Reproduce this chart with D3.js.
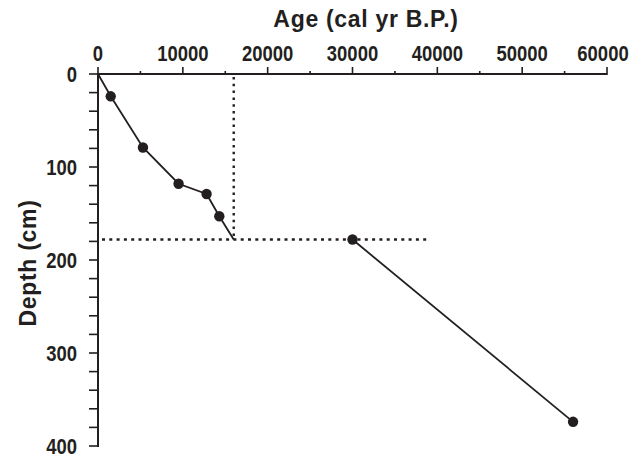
<!DOCTYPE html>
<html>
<head>
<meta charset="utf-8">
<script src="https://cdn.jsdelivr.net/npm/d3@7"></script>
<style>
  body { margin: 0; background: #fff; }
</style>
</head>
<body>
<div id="chart"></div>
<script>
// age-depth data
const ages = [0, 1500, 5300, 9500, 12800, 14300, 16000];
const depths = [0, 24, 79, 118, 129, 153, 178];
const ages2 = [30000, 56000];
const depths2 = [178, 374];
// dated samples (points)
const ptAges = [1500, 5300, 9500, 12800, 14300, 30000, 56000];
const ptDepths = [24, 79, 118, 129, 153, 178, 374];
// dotted guides
const hiatusDepth = 178;
const hiatusAge = 16000;
const guideAgeEnd = 39000;
const xTicks = [0, 10000, 20000, 30000, 40000, 50000, 60000];
const yTicks = [0, 100, 200, 300, 400];

const W = 633, H = 458;
const ink = "#231f20";
const fontNum = '"Liberation Sans", Arial, sans-serif';
const narrow = 0.84;   // condensed look of the tick numbers

const svg = d3.select("#chart").append("svg")
  .attr("width", W).attr("height", H);

const x = d3.scaleLinear().domain([0, 60000]).range([98, 607]);
const y = d3.scaleLinear().domain([0, 400]).range([74, 446]);

//------- x axis (top)
const xAxis = svg.append("g").attr("transform", "translate(0," + y(0) + ")");
xAxis.append("line").attr("x1", x(0)).attr("x2", x(60000)).attr("y1", 0).attr("y2", 0)
  .attr("stroke", ink).attr("stroke-width", 2);
xAxis.selectAll(".mt").data(d3.range(0, 60001, 5000)).enter().append("line")
  .attr("x1", d => x(d)).attr("x2", d => x(d))
  .attr("y1", 1).attr("y2", d => d % 10000 === 0 ? -7 : -3)
  .attr("stroke", ink).attr("stroke-width", 1.6);
// last label sits a bit left of its tick so it stays inside the page
xAxis.selectAll(".lab").data(xTicks).enter().append("text")
  .attr("transform", d => "translate(" + (d === 60000 ? x(d) - 4 : x(d)) + ",-13) scale(" + narrow + ",1)")
  .attr("text-anchor", "middle")
  .style("font-family", fontNum)
  .style("font-weight", "bold").style("font-size", "22px").attr("fill", ink)
  .text(d => d);

//------- y axis (left)
const yAxis = svg.append("g").attr("transform", "translate(" + x(0) + ",0)");
yAxis.append("line").attr("x1", 0).attr("x2", 0).attr("y1", y(0) - 1).attr("y2", y(400) + 1)
  .attr("stroke", ink).attr("stroke-width", 2);
yAxis.selectAll(".mt").data(d3.range(0, 401, 20)).enter().append("line")
  .attr("x1", 0).attr("x2", -9)
  .attr("y1", d => y(d)).attr("y2", d => y(d))
  .attr("stroke", ink).attr("stroke-width", 1.6);
yAxis.selectAll(".lab").data(yTicks).enter().append("text")
  .attr("transform", d => "translate(-21," + y(d) + ") scale(" + narrow + ",1)")
  .attr("dy", "0.36em")
  .attr("text-anchor", "end")
  .style("font-family", fontNum)
  .style("font-weight", "bold").style("font-size", "22px").attr("fill", ink)
  .text(d => d);

//------- titles
svg.append("text").attr("x", 366).attr("y", 27).attr("text-anchor", "middle")
  .style("font-family", fontNum).style("letter-spacing", "0.7px")
  .style("font-weight", "bold").style("font-size", "23px").attr("fill", ink)
  .text("Age (cal yr B.P.)");
svg.append("text").attr("transform", "translate(36,263) rotate(-90)").attr("text-anchor", "middle")
  .style("font-family", fontNum).style("letter-spacing", "0.7px")
  .style("font-weight", "bold").style("font-size", "23px").attr("fill", ink)
  .text("Depth (cm)");

//------- dotted guides
svg.append("line").attr("x1", x(hiatusAge)).attr("x2", x(hiatusAge))
  .attr("y1", y(0) + 3).attr("y2", y(hiatusDepth))
  .attr("stroke", ink).attr("stroke-width", 2.4).attr("stroke-dasharray", "2.5,4.3");
svg.append("line").attr("x1", x(0) + 4).attr("x2", x(guideAgeEnd))
  .attr("y1", y(hiatusDepth)).attr("y2", y(hiatusDepth))
  .attr("stroke", ink).attr("stroke-width", 2.4).attr("stroke-dasharray", "3,4.3");

//------- lines
const line = d3.line().x(d => x(d[0])).y(d => y(d[1]));
svg.append("path").datum(d3.zip(ages, depths)).attr("d", line)
  .attr("fill", "none").attr("stroke", ink).attr("stroke-width", 1.8);
svg.append("path").datum(d3.zip(ages2, depths2)).attr("d", line)
  .attr("fill", "none").attr("stroke", ink).attr("stroke-width", 1.8);

//------- points
svg.selectAll(".pt").data(d3.zip(ptAges, ptDepths)).enter().append("circle")
  .attr("cx", d => x(d[0])).attr("cy", d => y(d[1])).attr("r", 5.2)
  .attr("fill", ink);
</script>
</body>
</html>
